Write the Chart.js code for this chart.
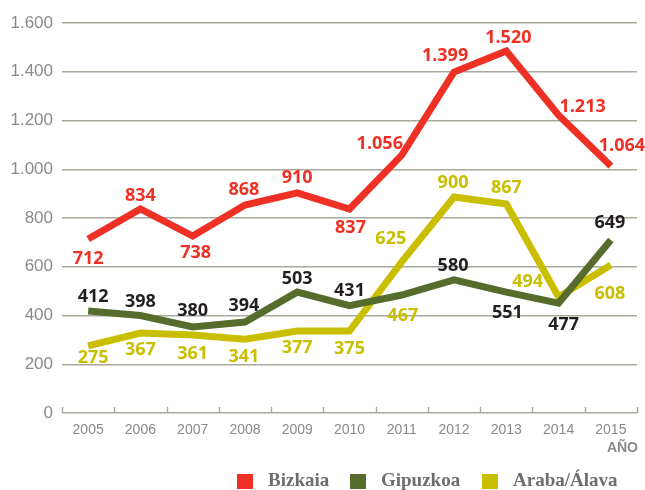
<!DOCTYPE html>
<html>
<head>
<meta charset="utf-8">
<script src="https://cdn.jsdelivr.net/npm/chart.js@4"></script>
<style>
  body { margin: 0; background: #fff; }
  #wrap { width: 645px; height: 490px; }
</style>
</head>
<body>
<div id="wrap"><canvas id="chart" width="645" height="490"></canvas></div>
<script>
// años
const years = ['2005', '2006', '2007', '2008', '2009', '2010', '2011', '2012', '2013', '2014', '2015'];

// valores de las líneas
const bizkaia  = [714, 837, 726, 853, 903, 837, 1058, 1399, 1485, 1222, 1013];
const gipuzkoa = [418, 400, 353, 373, 496, 440, 484, 546, 496, 451, 710];
const araba    = [275, 328, 320, 303, 336, 336, 620, 886, 857, 476, 607];

// etiquetas tal y como aparecen
const bizkaiaLabels  = ['712', '834', '738', '868', '910', '837', '1.056', '1.399', '1.520', '1.213', '1.064'];
const gipuzkoaLabels = ['412', '398', '380', '394', '503', '431', '467', '580', '551', '477', '649'];
const arabaLabels    = ['275', '367', '361', '341', '377', '375', '625', '900', '867', '494', '608'];

const yTicks = [0, 200, 400, 600, 800, 1000, 1200, 1400, 1600];

// colores
const RED = '#ee3124';
const GREEN = '#566c2d';
const YELLOW = '#c9bf00';
const GREY = '#8a8a8a';
const GRID = '#a9a99d';

// desplazamiento de cada etiqueta respecto a su punto
const labelOffsets = [
    [[0, 20], [0, -13], [3, 17], [-1, -15], [0, -15], [1, 19], [-22, -11], [-9, -16], [2, -13], [24, -8], [11, -20]],
    [[5, -14], [0, -14], [0, -16], [-1, -16], [0, -13], [0, -15], [1, 21], [-1, -14], [1, 21], [5, 22], [-1, -17]],
    [[5, 12], [0, 17], [0, 19], [-1, 18], [0, 17], [0, 18], [-11, -23], [-1, -14], [0, -16], [-31, -15], [-1, 29]]
];
const labelColors = [
    bizkaiaLabels.map(() => RED),
    gipuzkoaLabels.map((l, i) => i === 6 ? YELLOW : '#231f20'),
    arabaLabels.map(() => YELLOW)
];
const allLabels = [bizkaiaLabels, gipuzkoaLabels, arabaLabels];

// etiquetas de datos, marcas del eje, AÑO y leyenda
const extras = {
    id: 'extras',
    afterDatasetsDraw(chart) {
        const ctx = chart.ctx;
        ctx.save();
        ctx.font = 'bold 18px "Open Sans"';
        ctx.textAlign = 'center';
        ctx.textBaseline = 'middle';
        chart.data.datasets.forEach((ds, d) => {
            chart.getDatasetMeta(d).data.forEach((pt, i) => {
                const off = labelOffsets[d][i];
                ctx.fillStyle = labelColors[d][i];
                ctx.fillText(allLabels[d][i], pt.x + off[0], pt.y + off[1]);
            });
        });
        ctx.restore();
    },
    afterDraw(chart) {
        const ctx = chart.ctx;
        const x = chart.scales.x;
        const area = chart.chartArea;
        ctx.save();
        // marcas entre categorías
        const step = x.getPixelForValue(1) - x.getPixelForValue(0);
        ctx.strokeStyle = GRID;
        ctx.lineWidth = 1.5;
        for (let i = 0; i <= years.length; i++) {
            const px = Math.round(x.getPixelForValue(0) - step / 2 + i * step) + 0.5;
            ctx.beginPath();
            ctx.moveTo(px, area.bottom);
            ctx.lineTo(px, area.bottom - 6);
            ctx.stroke();
        }
        // título del eje
        ctx.fillStyle = GREY;
        ctx.font = 'bold 14px "Liberation Sans"';
        ctx.textAlign = 'right';
        ctx.textBaseline = 'middle';
        ctx.fillText('AÑO', 638, 448);
        // leyenda
        const boxX = [237, 350, 482];
        ctx.font = 'bold 19px "Liberation Serif"';
        ctx.textAlign = 'left';
        chart.data.datasets.forEach((ds, d) => {
            ctx.fillStyle = ds.borderColor;
            ctx.fillRect(boxX[d], 474, 16, 15);
            ctx.fillStyle = '#6d6e70';
            ctx.fillText(ds.label, boxX[d] + 31, 481);
        });
        ctx.restore();
    }
};

const ctx = document.getElementById('chart').getContext('2d');
new Chart(ctx, {
    type: 'line',
    data: {
        labels: years,
        datasets: [
            { label: 'Bizkaia', data: bizkaia, borderColor: RED, backgroundColor: RED },
            { label: 'Gipuzkoa', data: gipuzkoa, borderColor: GREEN, backgroundColor: GREEN },
            { label: 'Araba/Álava', data: araba, borderColor: YELLOW, backgroundColor: YELLOW }
        ]
    },
    options: {
        responsive: false,
        animation: false,
        layout: { padding: { top: 23, right: 8, left: 0, bottom: 0 } },
        elements: {
            line: { borderWidth: 7, tension: 0, borderCapStyle: 'butt', borderJoinStyle: 'miter' },
            point: { radius: 0, hoverRadius: 0 }
        },
        plugins: {
            legend: { display: false },
            tooltip: { enabled: false }
        },
        scales: {
            x: {
                offset: true,
                grid: { display: false, drawTicks: false },
                border: { display: false },
                ticks: {
                    color: GREY,
                    font: { family: '"Liberation Sans"', size: 14 },
                    padding: 9,
                    maxRotation: 0
                },
                afterFit(s) { s.height = 77; }
            },
            y: {
                min: 0,
                max: 1600,
                afterBuildTicks(s) { s.ticks = yTicks.map(v => ({ value: v })); },
                grid: { color: GRID, lineWidth: 1.5, drawTicks: false },
                border: { display: false },
                ticks: {
                    color: GREY,
                    font: { family: '"Liberation Sans"', size: 17 },
                    padding: 9,
                    callback: v => v.toLocaleString('de-DE')
                },
                afterFit(s) { s.width = 62; }
            }
        }
    },
    plugins: [extras]
});
</script>
</body>
</html>
